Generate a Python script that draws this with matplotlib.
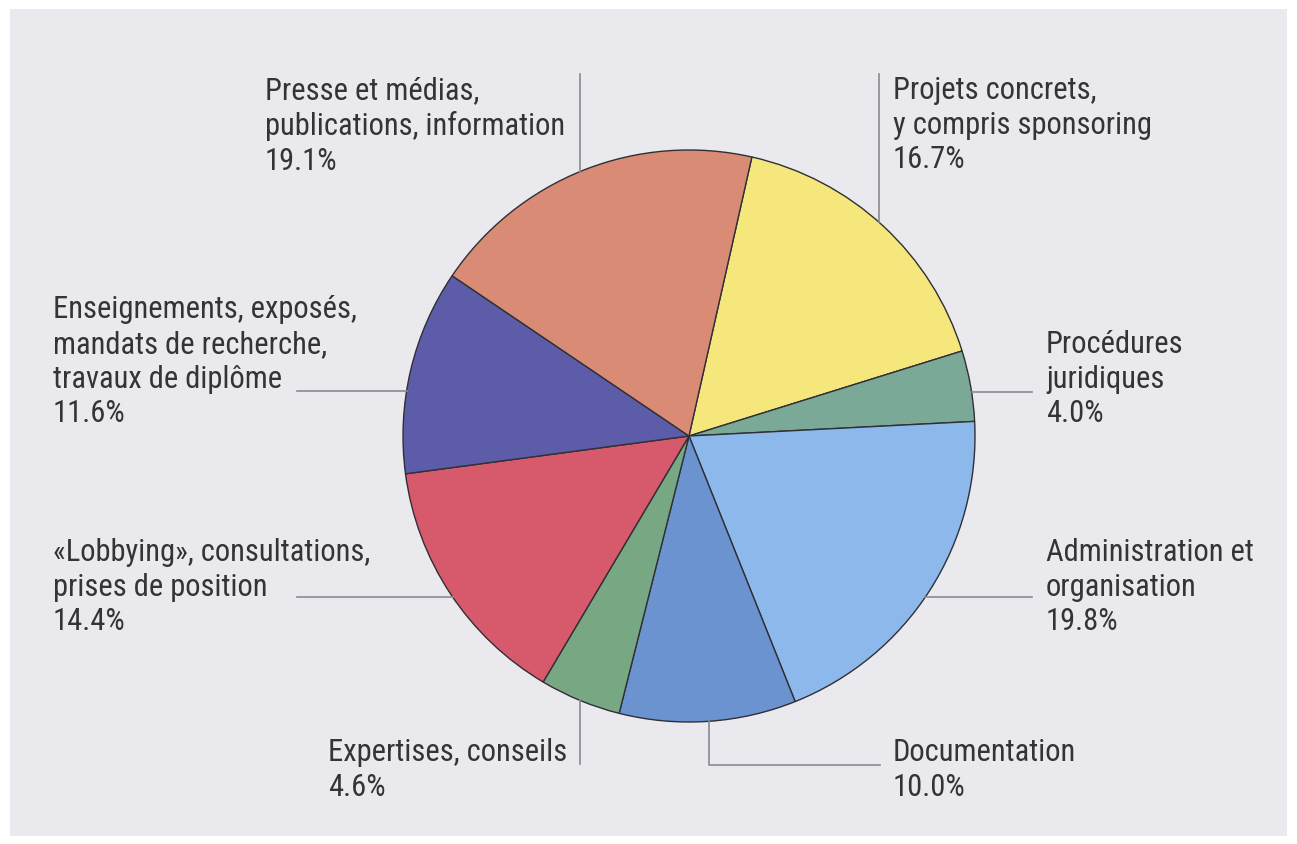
import math
import matplotlib
matplotlib.use("Agg")
import matplotlib.pyplot as plt
from matplotlib import font_manager
from matplotlib.patches import Rectangle

# Data (clockwise, starting with "Projets concrets")
labels = [
    "Projets concrets,\ny compris sponsoring",
    "Procédures\njuridiques",
    "Administration et\norganisation",
    "Documentation",
    "Expertises, conseils",
    "«Lobbying», consultations,\nprises de position",
    "Enseignements, exposés,\nmandats de recherche,\ntravaux de diplôme",
    "Presse et médias,\npublications, information",
]
shares = [16.7, 4.0, 19.8, 10.0, 4.6, 14.4, 11.6, 19.1]
colors = ["#f5e77c", "#7ba997", "#8db8ec", "#6a93d0",
          "#78a783", "#d65a6c", "#5d5ca8", "#d98b76"]

W, H = 1297, 845
cx, cy, r = 689, H - 437, 286

# condensed sans, close to Helvetica Condensed
names = {f.name for f in font_manager.fontManager.ttflist}
family = next((n for n in ["Roboto Condensed", "PT Sans Narrow", "Archivo Narrow",
                           "Liberation Sans Narrow"] if n in names), "DejaVu Sans")
plt.rcParams["font.family"] = [family, "DejaVu Sans"]

fig = plt.figure(figsize=(W / 100, H / 100), dpi=100, facecolor="white")
ax = fig.add_axes([0, 0, 1, 1])
ax.axis("off")
ax.patch.set_visible(False)

# paper background
ax.add_patch(Rectangle((10, 8), W - 20, H - 18, facecolor="#e9e9ee",
                       edgecolor="none", zorder=-5))

ax.pie(shares, colors=colors, startangle=77.3, counterclock=False,
       center=(cx, cy), radius=r,
       wedgeprops=dict(edgecolor="#2f2f35", linewidth=1.0))
ax.set_xlim(0, W)
ax.set_ylim(0, H)
ax.set_aspect("equal")

line_kw = dict(color="#8a8a90", linewidth=1.2, zorder=1)


def edge_x(y, side):
    return cx + side * math.sqrt(r ** 2 - (y - cy) ** 2)


def edge_y(x, side):
    return cy + side * math.sqrt(r ** 2 - (x - cx) ** 2)


# label anchor (x, top y in pixels)
label_pos = [(893, 76), (1046, 330), (1046, 538), (893, 738),
             (328, 738), (53, 538), (53, 295), (265, 76)]
for lab, pct, (tx, ty) in zip(labels, shares, label_pos):
    ax.text(tx, H - ty, f"{lab}\n{pct:.1f}%", ha="left", va="top",
            fontsize=22, color="#333338", linespacing=1.25)

# leader lines
ax.plot([879, 879], [H - 75, edge_y(879, 1)], **line_kw)          # Projets
ax.plot([edge_x(H - 393, 1), 1032], [H - 393, H - 393], **line_kw)  # Procédures
ax.plot([edge_x(H - 598, 1), 1032], [H - 598, H - 598], **line_kw)  # Administration
ax.plot([709, 709, 880], [edge_y(709, -1), H - 766, H - 766], **line_kw)  # Documentation
ax.plot([580, 580], [edge_y(580, -1), H - 765], **line_kw)        # Expertises
ax.plot([297, edge_x(H - 598, -1)], [H - 598, H - 598], **line_kw)  # Lobbying
ax.plot([297, edge_x(H - 392, -1)], [H - 392, H - 392], **line_kw)  # Enseignements
ax.plot([580, 580], [H - 75, edge_y(580, 1)], **line_kw)          # Presse

fig.savefig("out.png", dpi=100, facecolor="white")
